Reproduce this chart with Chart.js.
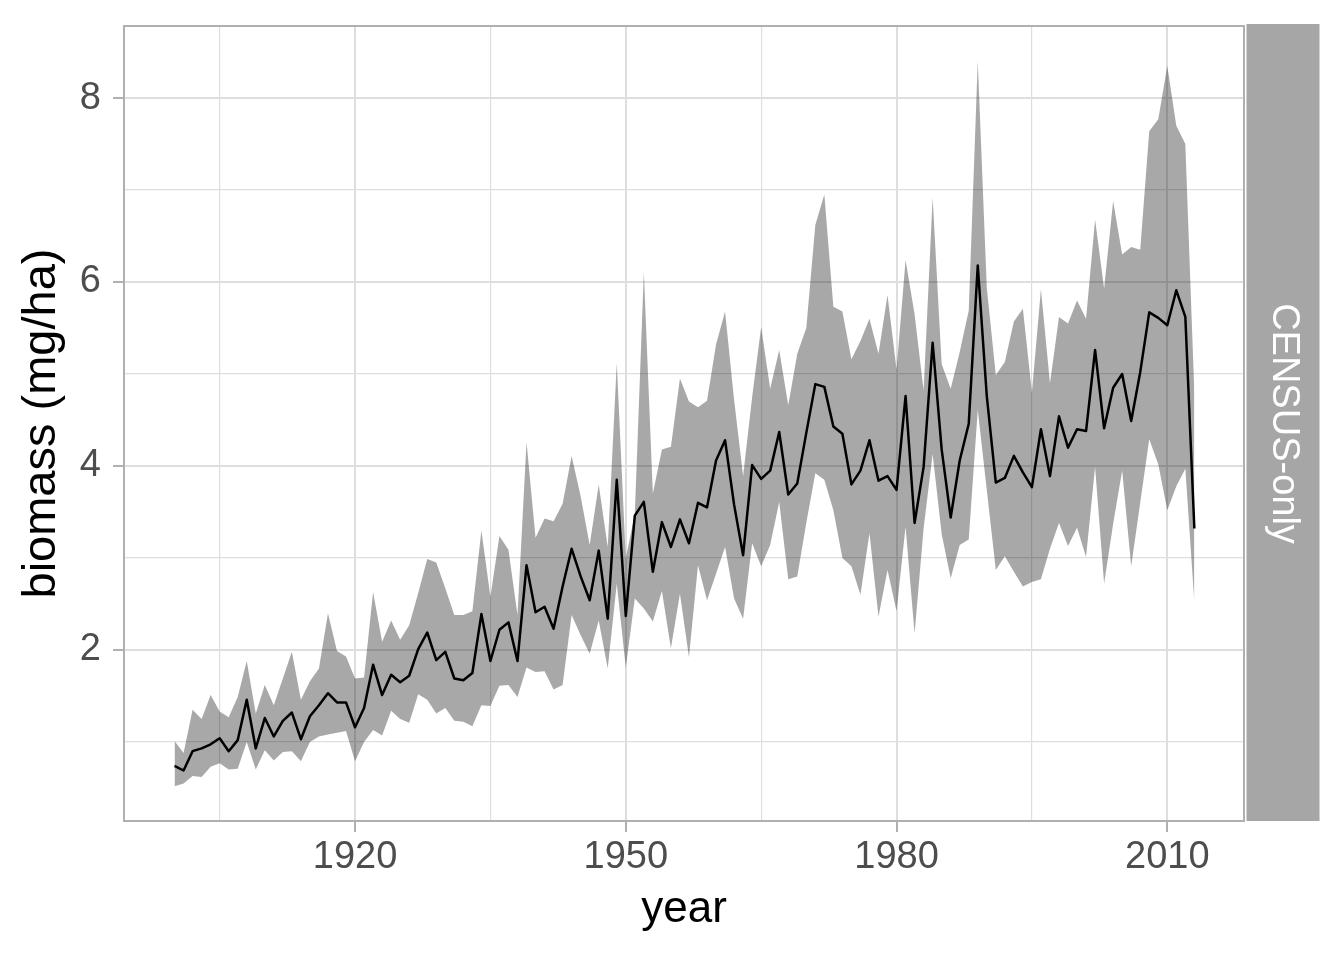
<!DOCTYPE html>
<html>
<head>
<meta charset="utf-8">
<title>biomass (mg/ha) by year</title>
<script src="https://cdn.jsdelivr.net/npm/chart.js@4.4.1/dist/chart.umd.min.js"></script>
<style>
  html, body { margin: 0; padding: 0; background: #fff; }
  #wrap { position: relative; width: 1344px; height: 960px; }
</style>
</head>
<body>
<div id="wrap"><canvas id="biomassChart"></canvas></div>
<script>
// == data ==
const years = [
  1900, 1901, 1902, 1903, 1904, 1905, 1906, 1907, 1908, 1909,
  1910, 1911, 1912, 1913, 1914, 1915, 1916, 1917, 1918, 1919,
  1920, 1921, 1922, 1923, 1924, 1925, 1926, 1927, 1928, 1929,
  1930, 1931, 1932, 1933, 1934, 1935, 1936, 1937, 1938, 1939,
  1940, 1941, 1942, 1943, 1944, 1945, 1946, 1947, 1948, 1949,
  1950, 1951, 1952, 1953, 1954, 1955, 1956, 1957, 1958, 1959,
  1960, 1961, 1962, 1963, 1964, 1965, 1966, 1967, 1968, 1969,
  1970, 1971, 1972, 1973, 1974, 1975, 1976, 1977, 1978, 1979,
  1980, 1981, 1982, 1983, 1984, 1985, 1986, 1987, 1988, 1989,
  1990, 1991, 1992, 1993, 1994, 1995, 1996, 1997, 1998, 1999,
  2000, 2001, 2002, 2003, 2004, 2005, 2006, 2007, 2008, 2009,
  2010, 2011, 2012, 2013
];

const biomassMean = [
  0.74, 0.69, 0.90, 0.93, 0.975, 1.04, 0.90, 1.02, 1.46, 0.93,
  1.26, 1.06, 1.23, 1.32, 1.03, 1.28, 1.40, 1.53, 1.43, 1.43,
  1.16, 1.37, 1.84, 1.51, 1.73, 1.65, 1.72, 2.01, 2.19, 1.89,
  1.98, 1.69, 1.67, 1.75, 2.39, 1.88, 2.22, 2.30, 1.88, 2.92,
  2.41, 2.47, 2.23, 2.69, 3.10, 2.80, 2.54, 3.08, 2.34, 3.85,
  2.37, 3.46, 3.61, 2.85, 3.39, 3.12, 3.42, 3.16, 3.60, 3.55,
  4.06, 4.28, 3.58, 3.03, 4.01, 3.86, 3.95, 4.37, 3.69, 3.81,
  4.36, 4.89, 4.86, 4.43, 4.35, 3.80, 3.95, 4.28, 3.84, 3.89,
  3.74, 4.76, 3.38, 3.99, 5.34, 4.18, 3.44, 4.06, 4.46, 6.18,
  4.76, 3.82, 3.87, 4.11, 3.93, 3.77, 4.40, 3.89, 4.54, 4.20,
  4.40, 4.38, 5.26, 4.41, 4.85, 5.00, 4.49, 5.02, 5.67, 5.61,
  5.53, 5.91, 5.62, 3.32
];

const biomassLower = [
  0.52, 0.55, 0.63, 0.62, 0.73, 0.77, 0.70, 0.71, 1.00, 0.70,
  0.91, 0.80, 0.89, 0.90, 0.79, 1.00, 1.06, 1.08, 1.10, 1.12,
  0.79, 1.00, 1.13, 1.07, 1.34, 1.25, 1.21, 1.52, 1.46, 1.31,
  1.37, 1.23, 1.22, 1.17, 1.40, 1.39, 1.61, 1.62, 1.49, 1.81,
  1.76, 1.77, 1.57, 1.62, 2.38, 2.16, 1.96, 2.32, 1.80, 2.72,
  1.81, 2.56, 2.45, 2.31, 2.64, 2.02, 2.61, 1.92, 2.92, 2.54,
  2.83, 3.12, 2.56, 2.34, 3.16, 2.91, 3.14, 3.61, 2.77, 2.80,
  3.38, 3.92, 3.85, 3.52, 3.00, 2.91, 2.60, 3.27, 2.36, 2.87,
  2.42, 3.34, 2.18, 3.32, 4.13, 3.26, 2.78, 3.14, 3.20, 4.61,
  3.74, 2.87, 3.02, 2.85, 2.69, 2.74, 2.77, 3.10, 3.38, 3.13,
  3.33, 3.01, 3.99, 2.72, 3.37, 3.95, 2.91, 3.60, 4.29, 4.02,
  3.52, 3.78, 3.97, 2.52
];

const biomassUpper = [
  1.01, 0.88, 1.35, 1.25, 1.51, 1.33, 1.27, 1.49, 1.88, 1.31,
  1.62, 1.40, 1.69, 1.98, 1.46, 1.66, 1.80, 2.40, 1.99, 1.93,
  1.69, 1.70, 2.63, 2.09, 2.32, 2.11, 2.27, 2.62, 2.99, 2.95,
  2.67, 2.38, 2.38, 2.42, 3.30, 2.58, 3.24, 3.09, 2.38, 4.26,
  3.22, 3.43, 3.40, 3.59, 4.11, 3.67, 3.14, 3.80, 3.12, 5.12,
  3.00, 3.48, 6.11, 3.70, 4.18, 4.21, 4.95, 4.70, 4.64, 4.71,
  5.32, 5.68, 4.72, 3.89, 4.75, 5.51, 4.84, 5.26, 4.66, 5.22,
  5.50, 6.62, 6.95, 5.73, 5.68, 5.16, 5.36, 5.60, 5.22, 5.86,
  5.05, 6.24, 5.65, 4.82, 6.92, 5.11, 4.84, 5.24, 5.69, 8.40,
  5.94, 4.99, 5.13, 5.57, 5.71, 4.80, 5.92, 4.90, 5.62, 5.55,
  5.80, 5.60, 6.68, 5.93, 6.88, 6.30, 6.38, 6.35, 7.64, 7.77,
  8.35, 7.70, 7.50, 4.80
];

const yearTicks = [1905, 1920, 1935, 1950, 1965, 1980, 1995, 2010];
const yearLabels = [1920, 1950, 1980, 2010];
const biomassTicks = [1, 2, 3, 4, 5, 6, 7, 8];
const biomassLabels = [2, 4, 6, 8];
const stripLabel = 'CENSUS-only';

// == styling ==
const FONT = '"Liberation Sans", Arial, Helvetica, sans-serif';
const GRID = '#DEDEDE';
const FRAME = '#B0B0B0';

Chart.defaults.font.family = FONT;

const toPoints = (vals) => years.map((yr, i) => ({ x: yr, y: vals[i] }));

// panel border + facet strip on the right
const panelDecor = {
    id: 'panelDecor',
    afterDatasetsDraw(chart) {
        const { ctx, chartArea: a } = chart;
        ctx.save();
        ctx.strokeStyle = FRAME;
        ctx.lineWidth = 2;
        ctx.strokeRect(a.left, a.top, a.right - a.left, a.bottom - a.top);

        const sx = a.right + 2.5, sw = 73;
        ctx.fillStyle = '#A6A6A6';
        ctx.fillRect(sx, a.top - 2, sw, a.bottom - a.top + 2);

        ctx.translate(sx + sw / 2, (a.top + a.bottom) / 2);
        ctx.rotate(Math.PI / 2);
        ctx.fillStyle = '#FFFFFF';
        ctx.font = '38px ' + FONT;
        ctx.textAlign = 'center';
        ctx.textBaseline = 'middle';
        ctx.fillText(stripLabel, 0, 0);
        ctx.restore();
    }
};

const canvas = document.getElementById('biomassChart');
new Chart(canvas.getContext('2d'), {
    type: 'line',
    data: {
        datasets: [
            {
                label: 'lower',
                data: toPoints(biomassLower),
                borderColor: 'rgba(0,0,0,0)',
                borderWidth: 0,
                pointRadius: 0,
                fill: false,
                order: 1
            },
            {
                label: 'upper',
                data: toPoints(biomassUpper),
                borderColor: 'rgba(0,0,0,0)',
                borderWidth: 0,
                backgroundColor: 'rgba(0,0,0,0.34)',
                pointRadius: 0,
                fill: '-1',
                order: 1
            },
            {
                label: 'biomass',
                data: toPoints(biomassMean),
                borderColor: '#000000',
                borderWidth: 2.5,
                borderJoinStyle: 'round',
                pointRadius: 0,
                fill: false,
                tension: 0,
                order: 0
            }
        ]
    },
    options: {
        responsive: true,
        maintainAspectRatio: false,
        animation: false,
        layout: { padding: { top: 26, right: 100, bottom: 0, left: 0 } },
        plugins: {
            legend: { display: false },
            tooltip: { enabled: false }
        },
        scales: {
            x: {
                type: 'linear',
                min: 1894.4,
                max: 2018.5,
                afterBuildTicks: (scale) => { scale.ticks = yearTicks.map(v => ({ value: v })); },
                afterFit: (scale) => {
                    scale.height = 139;
                    scale.paddingLeft = 0;
                    scale.paddingRight = 0;
                },
                ticks: {
                    autoSkip: false,
                    maxRotation: 0,
                    padding: 3,
                    color: '#4D4D4D',
                    font: { size: 38 },
                    callback: (v) => yearLabels.includes(v) ? String(v) : ''
                },
                grid: {
                    color: GRID,
                    lineWidth: (c) => (c.tick && yearLabels.includes(c.tick.value)) ? 2 : 1.2,
                    tickColor: (c) => (c.tick && yearLabels.includes(c.tick.value)) ? FRAME : 'rgba(0,0,0,0)',
                    tickWidth: 2,
                    tickLength: 11
                },
                border: { display: false },
                title: {
                    display: true,
                    text: 'year',
                    color: '#000000',
                    font: { size: 44 },
                    padding: { top: 0, bottom: 24 }
                }
            },
            y: {
                type: 'linear',
                min: 0.141,
                max: 8.783,
                afterBuildTicks: (scale) => { scale.ticks = biomassTicks.map(v => ({ value: v })); },
                afterFit: (scale) => {
                    scale.width = 124;
                    scale.paddingTop = 0;
                    scale.paddingBottom = 0;
                },
                ticks: {
                    autoSkip: false,
                    padding: 12,
                    color: '#4D4D4D',
                    font: { size: 38 },
                    callback: (v) => biomassLabels.includes(v) ? String(v) : ''
                },
                grid: {
                    color: GRID,
                    lineWidth: (c) => (c.tick && biomassLabels.includes(c.tick.value)) ? 2 : 1.2,
                    tickColor: (c) => (c.tick && biomassLabels.includes(c.tick.value)) ? FRAME : 'rgba(0,0,0,0)',
                    tickWidth: 2,
                    tickLength: 11
                },
                border: { display: false },
                title: {
                    display: true,
                    text: 'biomass (mg/ha)',
                    color: '#000000',
                    font: { size: 47 },
                    padding: { top: 14, bottom: 0 }
                }
            }
        }
    },
    plugins: [panelDecor]
});
</script>
</body>
</html>
